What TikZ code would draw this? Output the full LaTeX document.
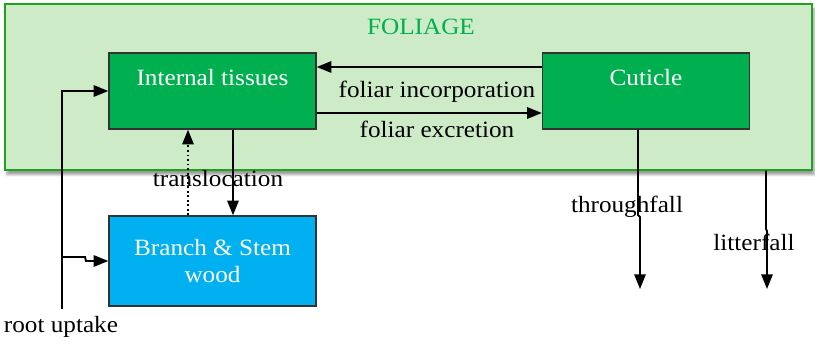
\documentclass[tikz,border=0pt]{standalone}
\usepackage{fontspec}
\setmainfont{Liberation Serif}[FakeStretch=1.08]
\usetikzlibrary{arrows.meta,shadows.blur,calc}
\definecolor{foliagefill}{HTML}{CCEBC6}
\definecolor{foliageline}{HTML}{1FA31F}
\definecolor{leafgreen}{HTML}{00B050}
\definecolor{woodblue}{HTML}{00B0F0}
\begin{document}
\begin{tikzpicture}[x=0.75pt,y=-0.75pt,
  every node/.style={font=\fontsize{17.5}{20}\selectfont},
  compbox/.style={draw=black!80, line width=1pt, inner sep=0pt},
  greenbox/.style={compbox, fill=leafgreen, minimum width=207*0.75pt, minimum height=76*0.75pt},
  whitetext/.style={text=white, inner sep=0pt},
  flowlabel/.style={text=black, inner sep=0pt},
  arr/.style={line width=1.4pt, -{Triangle[length=11pt,width=8.5pt]}},
  plain/.style={line width=1.4pt}]
\useasboundingbox (0,0) rectangle (815,347);

% foliage compartment
\node[draw=foliageline, line width=0.9pt, fill=foliagefill,
      minimum width=807*0.75pt, minimum height=166*0.75pt, inner sep=0pt,
      blur shadow={shadow xshift=1.5pt, shadow yshift=-3.5pt, shadow opacity=40, shadow blur steps=6}]
      (fol) at (408.5,87) {};
\node[text=leafgreen, inner sep=0pt] (foltitle) at (421,27) {FOLIAGE};

% pools
\node[greenbox] (it) at (212.5,91) {};
\node[whitetext] (itlabel) at (212.5,78) {Internal tissues};
\node[greenbox] (cu) at (646,91) {};
\node[whitetext] (culabel) at (646,78) {Cuticle};
\node[compbox, fill=woodblue, minimum width=207*0.75pt, minimum height=90*0.75pt,
      text=white, align=center] (br) at (212.5,261) {Branch \& Stem\\wood};

% exchange between tissues and cuticle
\draw[arr] (cu.west |- 0,67) -- (it.east |- 0,67);
\draw[arr] (it.east |- 0,113) -- (cu.west |- 0,113);
\node[flowlabel] (inc) at (437,92) {foliar incorporation};
\node[flowlabel] (exc) at (437,129) {foliar excretion};

% root uptake
\coordinate (ru) at (62,309);
\coordinate (rb) at (62,257);
\draw[arr] (ru) |- (it.west);
\draw[arr] (rb) -- (85,257) -- (86,261) -- (br.west);
\node[flowlabel] (rulabel) at (61,327) {root uptake};

% translocation
\draw[arr, dotted] (br.north -| 188,0) -- (it.south -| 188,0);
\draw[arr] (it.south -| 233,0) -- (br.north -| 233,0);
\node[flowlabel] (tllabel) at (218,179) {translocation};

% outputs
\coordinate (tfend) at (640,289);
\coordinate (lfend) at (767,289);
\draw[arr] (cu.south -| 638,0) -- (638,215) -- (640,217) -- (tfend);
\draw[arr] (fol.south -| 766,0) -- (766,229) -- (767,231) -- (lfend);
\node[flowlabel] (tflabel) at (627,207) {throughfall};
\node[flowlabel] (lflabel) at (754,242) {litterfall};
\end{tikzpicture}
\end{document}
